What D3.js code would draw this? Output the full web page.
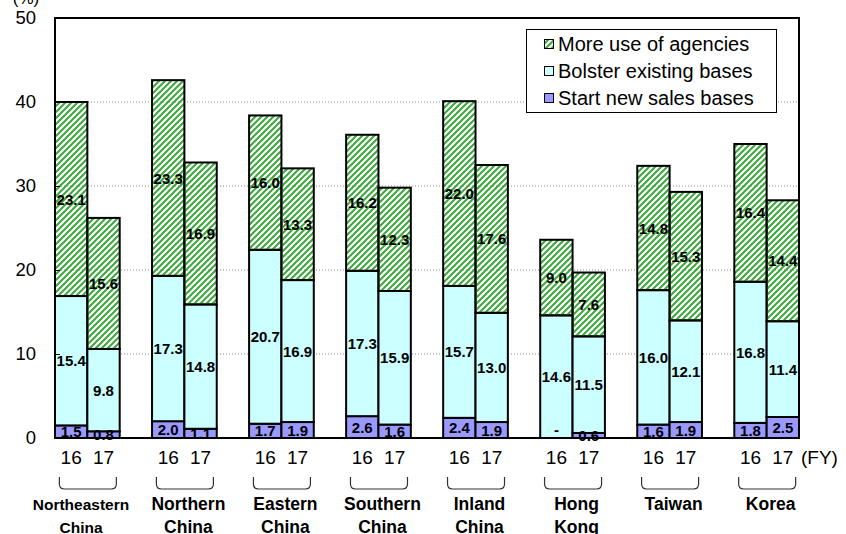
<!DOCTYPE html>
<html>
<head>
<meta charset="utf-8">
<script src="https://cdn.jsdelivr.net/npm/d3@7"></script>
<style>
  html, body { margin: 0; padding: 0; background: #fff; }
  svg { display: block; font-family: Arial, "Liberation Sans", sans-serif; }
</style>
</head>
<body>
<svg id="chart" width="846" height="534"></svg>
<script>
// ---------- data ----------
const regions = ["Northeastern China", "Northern China", "Eastern China", "Southern China",
                 "Inland China", "Hong Kong", "Taiwan", "Korea"];
const regionLines = [["Northeastern", "China"], ["Northern", "China"], ["Eastern", "China"],
                     ["Southern", "China"], ["Inland", "China"], ["Hong", "Kong"], ["Taiwan"], ["Korea"]];
const years = ["16", "17"];
const seriesNames = ["Start new sales bases", "Bolster existing bases", "More use of agencies"];
// values per region: [FY16, FY17]
const startNew   = [[1.5, 0.8], [2.0, 1.1], [1.7, 1.9], [2.6, 1.6], [2.4, 1.9], [0.0, 0.6], [1.6, 1.9], [1.8, 2.5]];
const bolster    = [[15.4, 9.8], [17.3, 14.8], [20.7, 16.9], [17.3, 15.9], [15.7, 13.0], [14.6, 11.5], [16.0, 12.1], [16.8, 11.4]];
const agencies   = [[23.1, 15.6], [23.3, 16.9], [16.0, 13.3], [16.2, 12.3], [22.0, 17.6], [9.0, 7.6], [14.8, 15.3], [16.4, 14.4]];
const yTicks = [0, 10, 20, 30, 40, 50];

// ---------- layout ----------
const svg = d3.select("#chart");
const L = 55, R = 799, T = 18, B = 438;
const nSlots = regions.length * 3 - 1;

const x = d3.scaleBand().domain(d3.range(nSlots)).range([L, R]).padding(0);
const y = d3.scaleLinear().domain([0, 50]).range([B, T]);

// hatch pattern
const defs = svg.append("defs");
const pat = defs.append("pattern")
  .attr("id", "hatch").attr("patternUnits", "userSpaceOnUse")
  .attr("width", 6).attr("height", 6);
pat.append("path").attr("d", "M-1,1 l2,-2 M0,6 l6,-6 M5,7 l2,-2")
  .attr("stroke", "#3aa83a").attr("stroke-width", 2);

// gridlines
svg.append("g").selectAll("line").data(yTicks.filter(d => d > 0 && d < 50)).join("line")
  .attr("x1", L).attr("x2", R).attr("y1", d => y(d)).attr("y2", d => y(d))
  .attr("stroke", "#8a8a8a").attr("stroke-width", 1).attr("stroke-dasharray", "1,2");

// stacks
const fills = ["#9999ff", "#ccffff", "url(#hatch)"];
const bars = [];
regions.forEach((r, gi) => {
  years.forEach((yr, yi) => {
    const vals = [startNew[gi][yi], bolster[gi][yi], agencies[gi][yi]];
    let base = 0;
    vals.forEach((v, si) => {
      bars.push({ slot: gi * 3 + yi, y0: base, y1: base + v, v, si });
      base += v;
    });
  });
});

const gBars = svg.append("g");
gBars.selectAll("rect").data(bars.filter(d => d.v > 0)).join("rect")
  .attr("x", d => x(d.slot)).attr("width", x.bandwidth())
  .attr("y", d => y(d.y1)).attr("height", d => y(d.y0) - y(d.y1))
  .attr("fill", d => fills[d.si])
  .attr("stroke", "#000").attr("stroke-width", 2);

// value labels
svg.append("g").selectAll("text").data(bars).join("text")
  .attr("x", d => x(d.slot) + x.bandwidth() / 2)
  .attr("y", d => (y(d.y0) + y(d.y1)) / 2 - (d.v === 0 ? 9 : 0))
  .attr("text-anchor", "middle").attr("dominant-baseline", "central")
  .attr("font-size", "15px").attr("font-weight", "bold").attr("fill", "#000")
  .text(d => d.v === 0 ? "-" : d3.format(".1f")(d.v));

// plot border
svg.append("rect").attr("x", L).attr("y", T).attr("width", R - L).attr("height", B - T)
  .attr("fill", "none").attr("stroke", "#000").attr("stroke-width", 2);

// y axis
const yAxis = d3.axisLeft(y).tickValues(yTicks).tickSize(-5).tickPadding(19).tickFormat(d3.format("d"));
const gy = svg.append("g").attr("transform", `translate(${L},0)`).call(yAxis);
gy.select(".domain").remove();
gy.selectAll(".tick line").attr("stroke", "#000").attr("stroke-width", 1);
gy.selectAll(".tick text").attr("font-size", "18.5px").attr("fill", "#000")
  .attr("font-family", "Arial, 'Liberation Sans', sans-serif");
svg.append("text").attr("x", 26).attr("y", 4).attr("text-anchor", "middle")
  .attr("font-size", "17px").attr("fill", "#000").text("(%)");

// x tick labels (years)
const xl = [];
regions.forEach((r, gi) => years.forEach((yr, yi) => xl.push({ slot: gi * 3 + yi, yr })));
svg.append("g").selectAll("text").data(xl).join("text")
  .attr("x", d => x(d.slot) + x.bandwidth() / 2).attr("y", 457)
  .attr("text-anchor", "middle").attr("dominant-baseline", "central")
  .attr("font-size", "19px").attr("fill", "#000").text(d => d.yr);
svg.append("text").attr("x", 801).attr("y", 457).attr("dominant-baseline", "central")
  .attr("font-size", "19px").attr("fill", "#000").text("(FY)");

// braces
const gBr = svg.append("g").attr("fill", "none").attr("stroke", "#333").attr("stroke-width", 1.2);
regions.forEach((r, gi) => {
  const cx = x(gi * 3 + 1);
  const x0 = cx - 28, x1 = cx + 29, t = 477, b = 489, rr = 5;
  gBr.append("path").attr("d",
    `M${x0},${t} L${x0},${b - rr} Q${x0},${b} ${x0 + rr},${b} L${x1 - rr},${b} Q${x1},${b} ${x1},${b - rr} L${x1},${t}`);
});

// region labels
const gLab = svg.append("g");
regionLines.forEach((lines, gi) => {
  const cx = gi === 0 ? 81 : x(gi * 3 + 1) + 4;
  lines.forEach((ln, li) => {
    gLab.append("text").attr("x", cx).attr("y", 504 + li * 23)
      .attr("text-anchor", "middle").attr("dominant-baseline", "central")
      .attr("font-size", gi === 0 ? "15.5px" : "17.5px").attr("font-weight", "bold")
      .attr("fill", "#000").text(ln);
  });
});

// legend
const lg = svg.append("g");
lg.append("rect").attr("x", 526.5).attr("y", 29.5).attr("width", 250).attr("height", 83)
  .attr("fill", "#fff").attr("stroke", "#000").attr("stroke-width", 1);
const legendOrder = [2, 1, 0];
legendOrder.forEach((si, i) => {
  const cy = 44 + i * 27;
  lg.append("rect").attr("x", 544.5).attr("y", cy - 4.5).attr("width", 9).attr("height", 9)
    .attr("fill", fills[si]).attr("stroke", "#000").attr("stroke-width", 1);
  lg.append("text").attr("x", 558).attr("y", cy).attr("dominant-baseline", "central")
    .attr("font-size", "20px").attr("fill", "#000").text(seriesNames[si]);
});
</script>
</body>
</html>
